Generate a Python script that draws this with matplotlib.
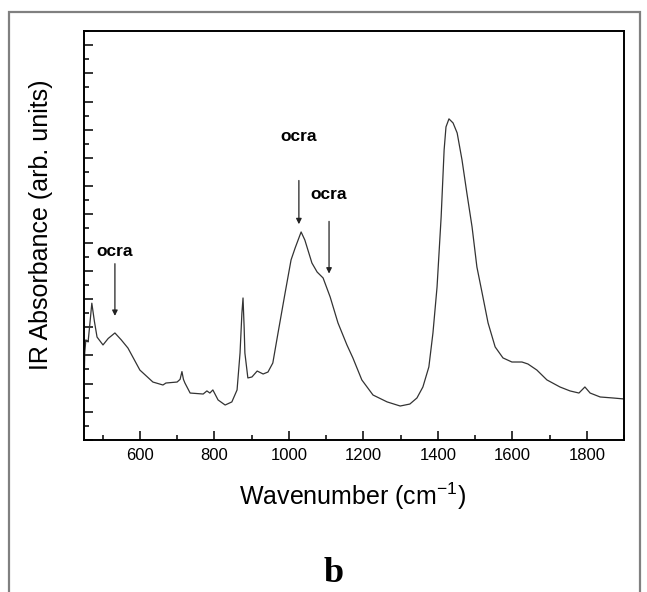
import numpy as np
import matplotlib
matplotlib.use("Agg")
import matplotlib.pyplot as plt
from matplotlib.patches import Rectangle
from matplotlib.ticker import MultipleLocator, NullFormatter

# IR spectrum (wavenumber, absorbance in tick units)
wavenumber = [451, 452, 455, 461, 466, 471, 478, 485, 501, 515, 533, 550, 568, 600, 635,
              662, 670, 700, 708, 713, 717, 721, 735, 770, 780, 788, 796, 810, 829,
              847, 861, 869, 874, 877, 880, 882, 890, 901, 915, 931, 944, 957, 971,
              990, 1006, 1017, 1033, 1043, 1062, 1076, 1092, 1111, 1132, 1156, 1172,
              1196, 1226, 1264, 1299, 1325, 1344, 1360, 1376, 1387, 1398, 1409, 1417,
              1422, 1430, 1441, 1452, 1465, 1478, 1492, 1505, 1519, 1535, 1554, 1575,
              1599, 1626, 1642, 1666, 1693, 1728, 1755, 1779, 1795, 1809, 1836, 1870,
              1900]
absorbance = [4.9, 6.2, 7.1, 6.95, 8.3, 9.7, 8.4, 7.3, 6.74, 7.2, 7.59, 7.1, 6.52, 4.96, 4.11,
              3.90, 4.04, 4.11, 4.3, 4.85, 4.3, 4.04, 3.33, 3.26, 3.48, 3.33, 3.55, 2.84, 2.48,
              2.70, 3.55, 6.17, 9.0, 10.07, 8.0, 6.17, 4.40, 4.47, 4.89, 4.68, 4.82, 5.46, 7.59,
              10.43, 12.77, 13.62, 14.75, 14.18, 12.55, 11.91, 11.49, 10.14, 8.30, 6.74, 5.82,
              4.26, 3.19, 2.70, 2.41, 2.55, 2.98, 3.76, 5.18, 7.59, 10.85, 15.82, 20.57,
              22.20, 22.77, 22.48, 21.77, 19.86, 17.52, 15.11, 12.27, 10.43, 8.30, 6.60, 5.82,
              5.53, 5.53, 5.39, 4.96, 4.26, 3.76, 3.48, 3.33, 3.76, 3.33, 3.05, 2.98,
              2.91]

# annotations: label text, arrow x, label y, arrow top y, arrow tip y
ann_text = ["ocra", "ocra", "ocra"]
ann_x = [533, 1027, 1108]
ann_label_y = [13.4, 21.5, 17.4]
ann_arrow_top = [12.5, 18.4, 15.5]
ann_arrow_tip = [8.8, 15.3, 11.8]

fig = plt.figure(figsize=(6.47, 5.92), dpi=100)
plt.rcParams['font.family'] = ['Liberation Sans', 'DejaVu Sans']

ax = fig.add_axes([84 / 647, 1 - 440 / 592, 540 / 647, 409 / 592])
ax.plot(wavenumber, absorbance, color='#333333', lw=0.9)
ax.set_xlim(450, 1900)
ax.set_ylim(0, 29)

ax.xaxis.set_major_locator(MultipleLocator(200))
ax.xaxis.set_minor_locator(MultipleLocator(100))
ax.yaxis.set_major_locator(MultipleLocator(2))
ax.yaxis.set_minor_locator(MultipleLocator(1))
ax.yaxis.set_major_formatter(NullFormatter())
ax.tick_params(which='major', direction='in', length=6.5, width=1.1, labelsize=12, pad=6)
ax.tick_params(which='minor', direction='in', length=3.5, width=1.1)
for s in ax.spines.values():
    s.set_linewidth(1.4)

for t, x, ly, at, tip in zip(ann_text, ann_x, ann_label_y, ann_arrow_top, ann_arrow_tip):
    ax.text(x, ly, t, ha='center', va='center', fontsize=12.5, fontweight='bold')
    ax.annotate('', xy=(x, tip), xytext=(x, at),
                arrowprops=dict(arrowstyle='-|>', color='#222222', lw=0.9,
                                mutation_scale=8, shrinkA=0, shrinkB=0))

fig.text(353 / 647, 1 - 496 / 592, 'Wavenumber (cm$^{\\mathregular{-1}}$)',
         ha='center', va='center', fontsize=18)
fig.text(41 / 647, 1 - 225 / 592, 'IR Absorbance (arb. units)',
         ha='center', va='center', rotation=90, fontsize=18)
fig.text(334 / 647, 1 - 582 / 592, 'b', ha='center', va='baseline',
         fontsize=26, fontweight='bold', family='Liberation Serif')

# grey outer frame, open at the bottom
fig.patches.append(Rectangle((9 / 647, -0.05), 631 / 647, 1 - 12 / 592 + 0.05,
                             transform=fig.transFigure, fill=False,
                             edgecolor='#808080', lw=1.6))

fig.savefig('out.png', dpi=100)
